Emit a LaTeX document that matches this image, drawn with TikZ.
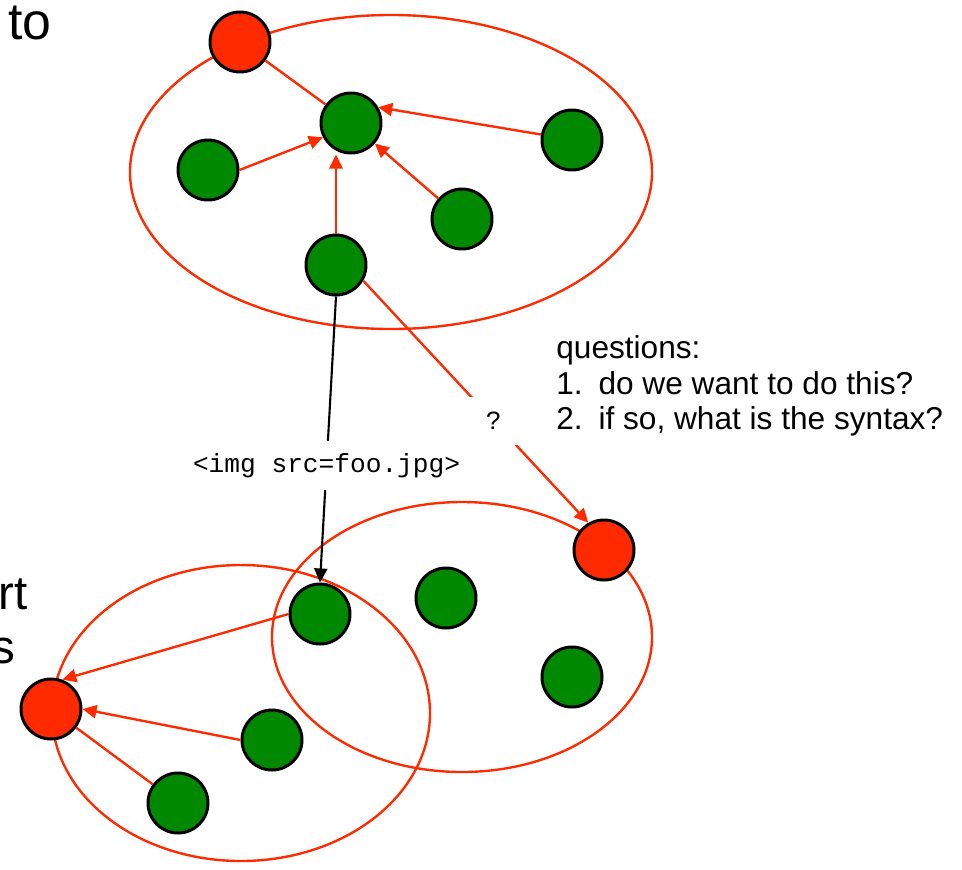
\documentclass[tikz,border=0pt]{standalone}
\usepackage{fontspec}
\setmainfont{Liberation Sans}
\setmonofont{Liberation Mono}
\usetikzlibrary{arrows.meta}
\definecolor{dotred}{RGB}{255,42,0}
\definecolor{dotgreen}{RGB}{0,136,0}

\begin{document}
\begin{tikzpicture}[
    x=0.02cm,
    y=-0.02cm,
    >={Triangle[length=8pt,width=7.5pt]},
    redpage/.style={draw=black, line width=1.7pt, circle, fill=dotred, minimum size=1.2cm, inner sep=0pt},
    greenpage/.style={draw=black, line width=1.7pt, circle, fill=dotgreen, minimum size=1.2cm, inner sep=0pt},
    site/.style={draw=dotred, line width=1.35pt},
    link/.style={draw=dotred, line width=1.35pt},
    codetag/.style={fill=white, font=\ttfamily\fontsize{14.9}{17}\selectfont},
    bigword/.style={font=\fontsize{27}{32}\selectfont, inner sep=0pt}
]
\useasboundingbox (0,0) rectangle (962,869);
% sites
\draw[site] (391,172) ellipse [x radius=261, y radius=157];
\draw[site] (462,637) ellipse [x radius=190, y radius=135];
\draw[site] (241,713) ellipse [x radius=189, y radius=148];
% pages of the upper site
\node[redpage] (r1) at (240,42) {};
\node[greenpage] (g1) at (351,123) {};
\node[greenpage] (g2) at (208,170) {};
\node[greenpage] (g3) at (572,140) {};
\node[greenpage] (g4) at (462,219) {};
\node[greenpage] (g5) at (336,265) {};
% pages of the lower sites
\node[redpage] (r2) at (604,550) {};
\node[greenpage] (h1) at (320,614) {};
\node[greenpage] (h2) at (446,598) {};
\node[greenpage] (h3) at (572,677) {};
\node[redpage] (r3) at (51,709) {};
\node[greenpage] (h4) at (272,740) {};
\node[greenpage] (h5) at (178,803) {};
% links
\draw[link] (r1) -- (g1);
\draw[link,->] (g2.east) -- (g1.207);
\draw[link,->] (g3.170) -- (g1.30);
\draw[link,->] (g4) -- (g1);
\draw[link,->] (g5.north) -- (g5.north |- g1.south);
\draw[->, line width=1.2pt] (g5.south) -- node[pos=0.59, codetag, inner sep=7pt] (tag) {<img src=foo.jpg>} (h1.north);
\draw[link,->] (g5.330) -- node[pos=0.58, codetag, minimum size=0.95cm] (ask) {?} (r2.120);
\draw[link,->] (h1.west) -- (r3.69);
\draw[link,->] (h4.west) -- (r3.east);
\draw[link] (h5) -- (r3);
% text
\node[bigword, font=\fontsize{29.5}{34}\selectfont, anchor=base west] (to) at (8,39) {to};
\node[bigword, anchor=base east] (rt) at (28,609) {rt};
\node[bigword, anchor=base east] (s) at (16,663) {s};
\node[anchor=north west, align=left, inner sep=0pt, font=\fontsize{18}{20.4}\selectfont] (qs) at (556,335) {questions:\\1.\enspace do we want to do this?\\2.\enspace if so, what is the syntax?};
\end{tikzpicture}
\end{document}
